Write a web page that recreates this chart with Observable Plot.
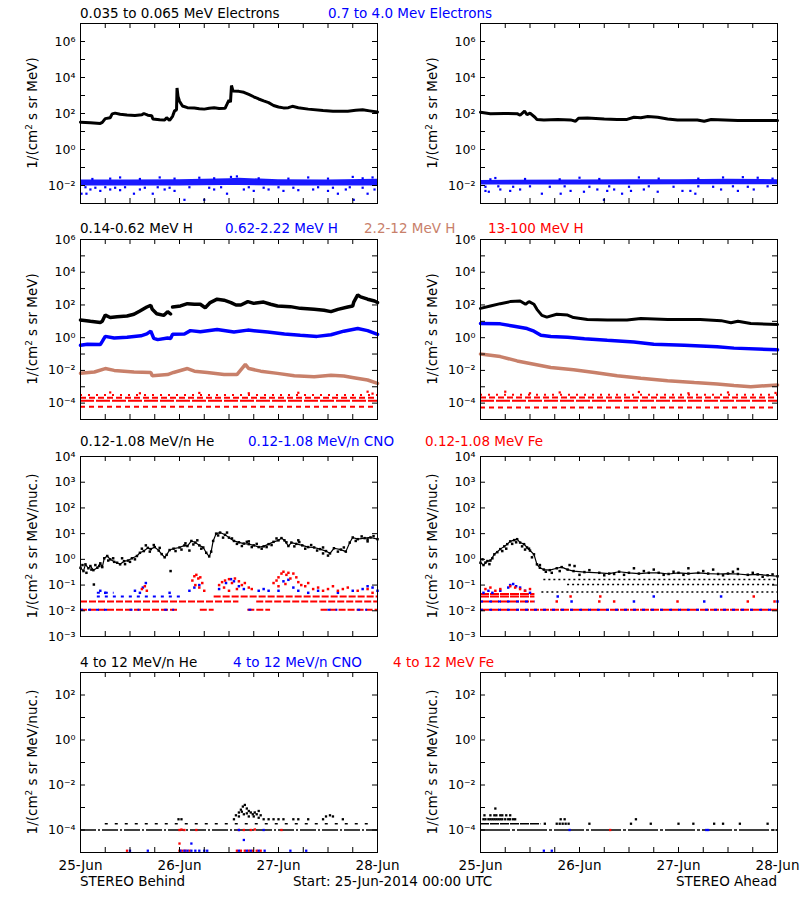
<!DOCTYPE html>
<html><head><meta charset="utf-8">
<script src="https://cdn.jsdelivr.net/npm/d3@7"></script>
<script src="https://cdn.jsdelivr.net/npm/@observablehq/plot@0.6"></script>
<style>
html,body{margin:0;padding:0;background:#fff;}
body{width:800px;height:900px;position:relative;overflow:hidden;font-family:"DejaVu Sans",sans-serif;}
.t{position:absolute;white-space:nowrap;line-height:1;font-family:"DejaVu Sans",sans-serif;}
.t sup{font-size:0.65em;line-height:0;vertical-align:0.55em;}
svg{position:absolute;}
</style></head>
<body>
<script>
// ---------- axes / labels ----------
const dayTicks = [0, 1, 2, 3];
const dayLabels = ["25-Jun", "26-Jun", "27-Jun", "28-Jun"];
const sixHourTicks = [0.25, 0.5, 0.75, 1, 1.25, 1.5, 1.75, 2, 2.25, 2.5, 2.75];
const yDomains = [[1e-3, 1e7], [1e-5, 1e6], [1e-3, 1e4], [1e-5, 1e3]];
const decadeTicks = [
  [1e-2, 1e-1, 1, 1e1, 1e2, 1e3, 1e4, 1e5, 1e6],
  [1e-4, 1e-3, 1e-2, 1e-1, 1, 1e1, 1e2, 1e3, 1e4, 1e5],
  [1e-2, 1e-1, 1, 1e1, 1e2, 1e3],
  [1e-4, 1e-3, 1e-2, 1e-1, 1, 1e1, 1e2]
];
const labelTicks = [
  [1e-2, 1, 1e2, 1e4, 1e6],
  [1e-4, 1e-2, 1, 1e2, 1e4, 1e6],
  [1e-3, 1e-2, 1e-1, 1, 1e1, 1e2, 1e3, 1e4],
  [1e-4, 1e-2, 1, 1e2]
];
const rowTitles = [
  [["0.035 to 0.065 MeV Electrons", 80, "black"], ["0.7 to 4.0 Mev Electrons", 328, "blue"]],
  [["0.14-0.62 MeV H", 80, "black"], ["0.62-2.22 MeV H", 225, "blue"], ["2.2-12 MeV H", 364, "#c8806a"], ["13-100 MeV H", 488, "red"]],
  [["0.12-1.08 MeV/n He", 80, "black"], ["0.12-1.08 MeV/n CNO", 248, "blue"], ["0.12-1.08 MeV Fe", 425, "red"]],
  [["4 to 12 MeV/n He", 80, "black"], ["4 to 12 MeV/n CNO", 233, "blue"], ["4 to 12 MeV Fe", 393, "red"]]
];
const yTitles = ["1/(cm<sup>2</sup> s sr MeV)", "1/(cm<sup>2</sup> s sr MeV)", "1/(cm<sup>2</sup> s sr MeV/nuc.)", "1/(cm<sup>2</sup> s sr MeV/nuc.)"];

// ---------- Row 1: electrons ----------
const behindE1 = [[0,33],[0.1,31],[0.2,28],[0.22,32],[0.25,52],[0.3,58],[0.32,95],[0.35,105],[0.4,90],[0.47,82],[0.55,78],[0.62,85],[0.64,100],[0.68,80],[0.72,75],[0.73,50],[0.8,45],[0.85,44],[0.87,58],[0.9,42],[0.93,70],[0.95,140],[0.97,160],[0.975,2600],[0.985,900],[1.0,480],[1.03,260],[1.08,210],[1.15,200],[1.2,185],[1.25,175],[1.3,195],[1.35,210],[1.4,190],[1.46,195],[1.48,330],[1.5,560],[1.515,420],[1.525,3600],[1.54,1800],[1.6,1700],[1.65,1500],[1.7,1150],[1.75,850],[1.8,640],[1.85,500],[1.9,400],[1.95,280],[2.0,230],[2.05,205],[2.1,210],[2.14,250],[2.2,210],[2.3,175],[2.45,145],[2.55,135],[2.7,135],[2.78,150],[2.85,160],[2.92,140],[3.0,120]];
const behindE2Band = [[0,0.0095,0.02],[0.5,0.0095,0.02],[1.0,0.0095,0.021],[1.5,0.01,0.024],[1.6,0.01,0.025],[2.0,0.0095,0.021],[2.5,0.0095,0.02],[3.0,0.0095,0.022]];
const behindE2Out = [[0.01,0.0035],[0.06,0.0035],[0.1,0.006],[0.2,0.005],[0.3,0.006],[0.4,0.0055],[0.54,0.0035],[0.6,0.006],[0.73,0.0035],[0.85,0.006],[0.95,0.005],[1.05,0.0016],[1.25,0.0016],[1.35,0.006],[1.48,0.0035],[1.52,0.03],[1.58,0.032],[1.65,0.006],[1.75,0.005],[1.9,0.006],[2.05,0.005],[2.2,0.0055],[2.35,0.006],[2.5,0.005],[2.6,0.0035],[2.68,0.006],[2.76,0.0016],[2.9,0.0035],[2.97,0.006],[0.4,0.028],[0.8,0.028],[1.2,0.027],[2.3,0.028],[2.75,0.03],[2.95,0.028],[0.05,0.008],[0.15,0.0075],[0.25,0.008],[0.35,0.0075],[0.45,0.008],[0.65,0.0075],[0.78,0.008],[0.9,0.0075],[1.1,0.008],[1.3,0.0075],[1.42,0.008],[1.7,0.008],[1.85,0.0075],[2.0,0.008],[2.15,0.0075],[2.4,0.008],[2.55,0.0075],[2.72,0.008],[2.85,0.0075],[0.12,0.023],[0.3,0.024],[0.6,0.023],[0.95,0.024],[1.35,0.025],[1.8,0.025],[2.1,0.024],[2.5,0.024],[2.85,0.025]];
const aheadE1 = [[0,118],[0.1,98],[0.24,100],[0.37,98],[0.4,80],[0.445,135],[0.47,85],[0.5,105],[0.55,62],[0.57,47],[0.64,44],[0.78,46],[0.91,44],[0.96,37],[0.99,55],[1.08,57],[1.25,50],[1.38,46],[1.48,47],[1.55,62],[1.62,58],[1.69,68],[1.79,62],[1.89,50],[1.99,44],[2.19,44],[2.26,37],[2.33,46],[2.6,41],[2.8,41],[3.0,41]];
const aheadE2Band = [[0,0.0105,0.019],[1.0,0.0105,0.02],[1.5,0.0105,0.021],[2.0,0.011,0.021],[2.5,0.011,0.022],[3.0,0.011,0.021]];
const aheadE2Out = [[0.05,0.005],[0.084,0.0045],[0.2,0.006],[0.3,0.005],[0.4,0.006],[0.62,0.0035],[0.81,0.0035],[0.91,0.005],[1.045,0.0045],[1.18,0.006],[1.247,0.0016],[1.28,0.005],[1.35,0.006],[1.43,0.0035],[1.52,0.005],[1.65,0.006],[1.79,0.0045],[2.04,0.005],[2.12,0.005],[2.17,0.0035],[2.43,0.006],[2.6,0.005],[2.76,0.006],[0.15,0.026],[1.0,0.027],[1.6,0.028],[2.45,0.028],[2.65,0.029],[2.8,0.027],[0.05,0.0085],[0.18,0.009],[0.33,0.0085],[0.5,0.009],[0.7,0.0085],[0.85,0.009],[1.1,0.0085],[1.3,0.009],[1.5,0.0085],[1.7,0.009],[1.95,0.0085],[2.2,0.009],[2.35,0.0085],[2.55,0.009],[2.7,0.0085],[2.9,0.009],[0.1,0.022],[0.45,0.023],[0.8,0.022],[1.2,0.023],[1.8,0.024],[2.2,0.024],[2.95,0.024]];

// ---------- Row 2: protons ----------
const behindH1 = [[0,12],[0.1,10],[0.2,8.5],[0.22,10],[0.25,24],[0.3,17],[0.37,19],[0.47,21],[0.54,27],[0.6,43],[0.67,75],[0.71,95],[0.725,54],[0.77,29],[0.84,23],[0.88,39],[0.91,28],[0.92,NaN],[0.93,75],[1.01,87],[1.08,120],[1.15,110],[1.21,110],[1.26,68],[1.31,140],[1.38,225],[1.45,195],[1.52,140],[1.57,100],[1.62,100],[1.69,160],[1.75,125],[1.85,150],[1.92,110],[1.99,87],[2.12,79],[2.22,62],[2.36,54],[2.46,47],[2.53,39],[2.6,54],[2.7,75],[2.75,87],[2.76,150],[2.8,410],[2.83,310],[2.9,225],[2.97,175],[3.0,140]];
const behindH2 = [[0,0.34],[0.07,0.4],[0.2,0.38],[0.22,0.6],[0.25,1.2],[0.34,0.96],[0.47,1.05],[0.61,1.3],[0.67,1.7],[0.71,2.5],[0.74,0.9],[0.78,0.76],[0.88,0.95],[0.91,0.9],[0.93,1.6],[1.05,1.7],[1.11,2.7],[1.21,2.3],[1.38,3.2],[1.55,2.2],[1.69,2.9],[1.89,2.2],[2.06,1.7],[2.22,1.4],[2.39,1.2],[2.53,1.5],[2.66,2.5],[2.8,3.6],[2.9,2.7],[3.0,1.6]];
const behindH3 = [[0,0.0066],[0.14,0.008],[0.25,0.013],[0.34,0.01],[0.54,0.008],[0.71,0.0075],[0.725,0.0047],[0.88,0.0056],[0.94,0.0075],[1.08,0.013],[1.15,0.009],[1.28,0.0075],[1.45,0.0056],[1.58,0.0056],[1.63,0.013],[1.665,0.023],[1.7,0.013],[1.82,0.009],[1.99,0.0066],[2.16,0.0047],[2.36,0.0041],[2.53,0.0051],[2.66,0.0045],[2.76,0.0036],[2.9,0.0026],[3.0,0.0016]];
const behindH4Levels = [3.1e-4, 2.1e-4, 1.4e-4, 6e-5];
const behindH4Out = [[0.3,4.5e-4],[0.6,4e-4],[1.2,4.2e-4],[1.7,4e-4],[2.2,4.3e-4],[2.9,5e-4],[2.95,3.8e-4]];
const aheadH1 = [[0,62],[0.1,87],[0.2,120],[0.3,160],[0.4,175],[0.455,110],[0.49,160],[0.54,110],[0.57,54],[0.62,23],[0.67,18],[0.77,27],[0.88,24],[0.94,17],[1.08,13],[1.28,12],[1.48,12],[1.62,15],[1.89,13],[2.22,13],[2.43,11],[2.53,8.1],[2.6,10],[2.73,7.4],[3.0,6.4]];
const aheadH2 = [[0,7.4],[0.2,7],[0.34,5],[0.47,3.6],[0.54,2.5],[0.61,1.4],[0.71,1.2],[0.88,1.05],[1.05,0.87],[1.28,0.7],[1.55,0.55],[1.75,0.4],[2.06,0.34],[2.39,0.28],[2.56,0.23],[3.0,0.18]];
const aheadH3 = [[0,0.1],[0.2,0.07],[0.37,0.038],[0.54,0.024],[0.71,0.015],[0.94,0.011],[1.15,0.0075],[1.38,0.0047],[1.62,0.0033],[1.89,0.0023],[2.16,0.0018],[2.39,0.0015],[2.56,0.0012],[2.73,0.001],[3.0,0.0013]];
const aheadH4Levels = [3.2e-4, 2.2e-4, 1.4e-4, 5.5e-5];
const aheadH4Out = [[0.25,5e-4],[0.5,4e-4],[0.8,4.5e-4],[1.6,4.8e-4],[2.1,4e-4],[2.5,4.5e-4],[2.98,4.2e-4]];
const levelDash = ["2,6", "6,3", "14,2", "5,4"];

// ---------- Row 3: 0.12-1.08 MeV/n ions ----------
const behindHe = [[0,0.47],[0.03,0.35],[0.05,0.64],[0.08,0.45],[0.1,0.55],[0.13,0.38],[0.17,0.47],[0.2,0.7],[0.22,0.5],[0.24,1.1],[0.27,1.35],[0.3,1.0],[0.34,0.8],[0.37,0.74],[0.4,0.64],[0.44,0.85],[0.48,0.9],[0.52,1.1],[0.57,1.35],[0.6,1.8],[0.64,2.1],[0.68,2.8],[0.71,2.5],[0.75,3.0],[0.79,2.2],[0.82,1.6],[0.85,1.2],[0.87,1.5],[0.9,2.3],[0.94,2.6],[1.0,2.9],[1.05,3.5],[1.08,3.3],[1.12,5.2],[1.16,4.5],[1.2,3.5],[1.24,2.9],[1.27,1.8],[1.3,1.3],[1.32,2.0],[1.34,5.2],[1.37,10],[1.41,11],[1.46,9],[1.5,7],[1.55,5.2],[1.6,4.6],[1.65,4.1],[1.7,3.9],[1.75,3.5],[1.8,3.0],[1.85,3.2],[1.9,3.9],[1.95,4.8],[2.0,5.5],[2.03,6.7],[2.06,5.5],[2.1,3.3],[2.13,4.5],[2.18,4.0],[2.24,3.5],[2.3,3.0],[2.36,2.9],[2.42,2.5],[2.48,2.1],[2.52,1.7],[2.56,2.7],[2.63,2.4],[2.68,2.0],[2.72,4.5],[2.75,7.1],[2.8,6.1],[2.87,6.7],[2.93,7.1],[3.0,6.1]];
const behindHeOut = [[0.91,0.35],[0.135,0.105],[0.06,0.3],[0.15,0.6],[0.42,1.1],[0.66,3.5],[1.1,2.2],[1.44,7],[1.7,5],[2.2,5.5],[2.45,1.7],[2.9,5],[0.02,0.6],[0.11,0.4],[0.19,0.55],[0.28,0.9],[0.33,1.1],[0.45,0.65],[0.5,0.8],[0.55,1.0],[0.62,2.6],[0.7,2.0],[0.74,3.6],[0.8,2.8],[0.96,2.1],[1.02,2.4],[1.06,4.2],[1.14,3.8],[1.18,5.5],[1.22,2.6],[1.39,8.5],[1.48,11],[1.53,6.5],[1.58,4.0],[1.63,3.3],[1.68,4.8],[1.73,3.0],[1.78,4.0],[1.83,2.6],[1.88,3.0],[1.93,3.6],[1.98,6.5],[2.08,4.6],[2.16,3.2],[2.21,4.7],[2.27,2.6],[2.33,3.6],[2.39,2.2],[2.45,2.9],[2.5,1.4],[2.6,2.0],[2.66,2.9],[2.78,5.2],[2.84,7.8],[2.9,6.0],[2.96,8.0]];
const behindFeLevels = [[0,0.98,0.011],[1.21,1.35,0.011],[1.69,1.92,0.011],[2.43,3,0.011],[0,1.6,0.023],[1.78,3,0.023],[1.35,3,0.036]];
const behindCnoLevels = [[0,0.3,0.011],[0.5,0.6,0.011],[0.85,0.95,0.011],[1.7,1.78,0.011],[2.5,2.6,0.011],[2.8,2.9,0.011],[0.17,1.01,0.036],[0.17,0.34,0.05]];
const behindFe = [[0.62,0.07],[0.65,0.09],[0.67,0.06],[1.13,0.15],[1.15,0.22],[1.17,0.25],[1.19,0.18],[1.21,0.2],[1.23,0.12],[1.2,0.08],[1.16,0.1],[1.25,0.06],[1.4,0.1],[1.43,0.13],[1.46,0.15],[1.5,0.17],[1.53,0.12],[1.56,0.18],[1.6,0.14],[1.63,0.1],[1.66,0.12],[1.7,0.08],[1.73,0.07],[1.5,0.06],[1.45,0.08],[1.58,0.07],[1.95,0.12],[1.98,0.15],[2.0,0.2],[2.03,0.28],[2.05,0.33],[2.08,0.25],[2.1,0.3],[2.12,0.18],[2.15,0.28],[2.18,0.2],[2.2,0.13],[2.23,0.1],[2.27,0.09],[2.3,0.12],[2.0,0.09],[2.07,0.11],[2.35,0.07],[2.4,0.08],[2.45,0.06],[2.5,0.07],[2.55,0.09],[2.6,0.06],[2.65,0.07],[2.7,0.08],[2.8,0.06],[2.9,0.07],[2.95,0.05]];
const behindCno = [[0.2,0.06],[0.25,0.05],[0.55,0.06],[0.63,0.08],[0.66,0.12],[0.6,0.05],[0.9,0.05],[1.1,0.06],[1.15,0.08],[1.2,0.1],[1.4,0.07],[1.47,0.12],[1.52,0.17],[1.55,0.14],[1.6,0.09],[1.65,0.07],[1.8,0.06],[1.85,0.07],[1.9,0.06],[2.0,0.06],[2.05,0.14],[2.1,0.16],[2.15,0.08],[2.2,0.06],[2.3,0.05],[2.4,0.06],[2.6,0.05],[2.75,0.06],[2.85,0.07],[2.9,0.09],[2.95,0.08],[3.0,0.06]];
const aheadHe = [[0,0.74],[0.03,0.6],[0.07,0.86],[0.1,0.9],[0.14,1.57],[0.2,2.5],[0.24,3.2],[0.27,3.9],[0.3,5.0],[0.34,5.6],[0.37,6.1],[0.4,4.5],[0.44,3.9],[0.47,2.9],[0.5,2.2],[0.54,1.57],[0.57,0.64],[0.6,0.47],[0.64,0.4],[0.7,0.38],[0.77,0.45],[0.82,0.5],[0.88,0.4],[0.94,0.35],[1.05,0.32],[1.2,0.3],[1.3,0.28],[1.4,0.33],[1.5,0.3],[1.6,0.28],[1.7,0.3],[1.8,0.3],[1.9,0.27],[2.0,0.3],[2.1,0.28],[2.2,0.3],[2.3,0.28],[2.4,0.27],[2.5,0.28],[2.6,0.27],[2.7,0.25],[2.8,0.26],[2.9,0.24],[3.0,0.22]];
const aheadHeOut = [[0.9,0.6],[0.95,0.55],[1.55,0.45],[1.75,0.4],[2.1,0.45],[2.35,0.4],[2.6,0.42],[0.02,1.0],[0.12,1.1],[0.32,4.0],[0.45,2.4],[0.05,0.75],[0.09,0.65],[0.17,1.9],[0.22,2.1],[0.26,2.6],[0.36,4.6],[0.42,3.2],[0.49,2.6],[0.52,1.2],[0.6,0.6],[0.66,0.33],[0.72,0.3],[0.8,0.35],[1.0,0.25],[1.1,0.38],[1.25,0.24],[1.35,0.27],[1.45,0.25],[1.65,0.35],[1.85,0.25],[1.95,0.33],[2.05,0.25],[2.25,0.35],[2.45,0.24],[2.55,0.33],[2.75,0.3],[2.85,0.21],[2.95,0.26]];
const aheadHeLevels = [[0.64,3,0.165],[0.88,3,0.105],[0.62,3,0.054]];
const aheadFeLevels = [[0,3,0.011],[0,0.55,0.023],[0,0.55,0.036],[0,0.55,0.045]];
const aheadCnoLevels = [[0,3,0.011],[0,0.55,0.023]];
const aheadFe = [[0.05,0.07],[0.1,0.08],[0.15,0.06],[0.2,0.07],[0.3,0.09],[0.35,0.08],[0.4,0.07],[0.45,0.06],[0.5,0.07],[0.77,0.023],[0.91,0.036],[1.2,0.023],[1.21,0.036],[1.35,0.023],[1.99,0.023],[2.7,0.023],[2.76,0.036],[2.97,0.023]];
const aheadCno = [[0.03,0.05],[0.08,0.06],[0.12,0.05],[0.2,0.06],[0.28,0.08],[0.3,0.1],[0.33,0.11],[0.36,0.09],[0.4,0.08],[0.45,0.06],[0.5,0.05],[0.78,0.036],[0.92,0.023],[1.55,0.023],[1.75,0.036],[2.26,0.023],[2.43,0.036],[3.0,0.023]];

// ---------- Row 4: 4-12 MeV/n ions ----------
const behindHe4Base = [[0,3,1e-4]];
const behindHe4Upper = [[0.25,2.95,1.9e-4]];
const behindHe4 = [[1.55,3e-4],[1.57,4.5e-4],[1.6,6e-4],[1.62,8e-4],[1.64,1.1e-3],[1.66,1.3e-3],[1.68,9e-4],[1.7,7e-4],[1.72,6e-4],[1.74,5e-4],[1.76,6e-4],[1.78,5e-4],[1.8,7e-4],[1.82,4.5e-4],[1.6,4e-4],[1.65,5e-4],[1.7,4e-4],[1.75,4e-4],[1.8,3.5e-4],[1.68,5.5e-4],[1.63,6.5e-4],[0.99,3e-4],[1.02,3e-4],[1.85,3e-4],[1.9,3e-4],[1.95,3e-4],[2.0,3e-4],[2.05,3e-4],[2.15,3e-4],[2.2,3e-4],[2.3,3e-4],[2.45,3e-4],[2.48,4e-4],[2.52,4.5e-4],[2.55,4e-4],[2.65,3e-4]];
const behindFe4 = [[0.47,1.2e-5],[1.0,1.2e-5],[1.03,1.2e-5],[1.06,1.2e-5],[1.1,1.2e-5],[1.0,2.5e-5],[1.0,1e-4],[1.02,1.05e-4],[1.05,1e-4],[1.17,1e-4],[1.58,1.2e-5],[1.62,1.2e-5],[1.66,1.2e-5],[1.7,1.2e-5],[1.74,1.2e-5],[1.78,1.2e-5],[1.82,1.2e-5],[1.6,1e-4],[1.65,1e-4],[1.76,1.05e-4],[1.72,1e-4],[2.03,1e-4]];
const behindCno4 = [[0.5,1.2e-5],[0.68,1.2e-5],[1.01,1.2e-5],[1.05,1.2e-5],[1.08,1.2e-5],[1.12,1.2e-5],[1.16,1.2e-5],[1.2,1.2e-5],[1.25,1.2e-5],[1.28,1.2e-5],[1.12,2.5e-5],[1.65,3.6e-5],[1.6,1.2e-5],[1.68,1.2e-5],[1.72,1.2e-5],[1.8,1.2e-5],[1.86,1.2e-5],[2.12,1.2e-5],[2.28,1.2e-5],[1.6,1e-4],[1.85,1e-4]];
const aheadHe4Base = [[0,3,1e-4]];
const aheadHe4Upper = [[0,0.61,1.9e-4]];
const aheadHe4 = [[0.03,3e-4],[0.05,3e-4],[0.08,3e-4],[0.1,3e-4],[0.12,3e-4],[0.14,3e-4],[0.16,3e-4],[0.18,3e-4],[0.2,3e-4],[0.22,3e-4],[0.25,3e-4],[0.28,3e-4],[0.3,3e-4],[0.33,3e-4],[0.35,3e-4],[0.04,4.5e-4],[0.1,4.5e-4],[0.14,4.5e-4],[0.16,4.5e-4],[0.2,4.5e-4],[0.22,4.5e-4],[0.26,4.5e-4],[0.3,4.5e-4],[0.15,9e-4],[0.65,1.9e-4],[0.77,1.9e-4],[0.8,1.9e-4],[0.83,1.9e-4],[0.86,1.9e-4],[0.89,1.9e-4],[1.1,1.9e-4],[1.52,1.9e-4],[1.72,1.9e-4],[2.0,1.9e-4],[2.15,1.9e-4],[2.36,1.9e-4],[2.45,1.9e-4],[2.62,1.9e-4],[2.9,1.9e-4],[0.81,3e-4],[0.85,3e-4],[1.57,3e-4]];
const aheadCno4 = [[0.64,1.2e-5],[0.72,1.2e-5],[0.9,1e-4],[2.28,1e-4],[2.3,1e-4]];
const aheadFe4 = [[1.31,1e-4]];

// ---------- layout ----------
const rowTop = [23, 239, 456, 672];
const PH = 180;
const BLUE = "#0000ff", RED = "#ff0000", SIENNA = "#c8806a";
const FONT = "'DejaVu Sans', sans-serif";
const supMap = {"-": "\u207B", "0": "\u2070", "1": "\u00B9", "2": "\u00B2", "3": "\u00B3", "4": "\u2074", "5": "\u2075", "6": "\u2076", "7": "\u2077", "8": "\u2078", "9": "\u2079"};
const sup = d => "10" + String(Math.round(Math.log10(d))).split("").map(c => supMap[c]).join("");
const X = d => d[0], Y = d => d[1];

const line = (data, color, w) => Plot.line(data, {x: X, y: Y, stroke: color, strokeWidth: w, strokeLinejoin: "miter"});
const dots = (data, color, r = 1.25) => Plot.dot(data, {x: X, y: Y, fill: color, r, symbol: "square"});
const band = (data, color) => Plot.areaY(data, {x: X, y1: d => d[1], y2: d => d[2], fill: color, fillOpacity: 0.9});
const segs = (data, color, dash, w = 2) => Plot.ruleY(data, {y: d => d[2], x1: d => d[0], x2: d => d[1], stroke: color, strokeWidth: w, strokeDasharray: dash});
const levelRules = (levels, color) => levels.map((lv, i) => Plot.ruleY([lv], {y: d => d, x1: 0, x2: 3, stroke: color, strokeWidth: 2, strokeDasharray: levelDash[i]}));

function text(html, x, baseline, color, size = 13.5, anchor = "start") {
  const el = document.createElement("div");
  el.className = "t";
  el.innerHTML = html;
  el.style.left = x + "px";
  el.style.top = (baseline - 0.846 * size) + "px";
  el.style.color = color;
  el.style.fontSize = size + "px";
  if (anchor === "end") el.style.transform = "translateX(-100%)";
  document.body.appendChild(el);
}
function vtext(html, cx, cy, size = 13.5) {
  const el = document.createElement("div");
  el.className = "t";
  el.innerHTML = html;
  el.style.left = cx + "px";
  el.style.top = cy + "px";
  el.style.fontSize = size + "px";
  el.style.transform = "translate(-50%,-50%) rotate(-90deg)";
  document.body.appendChild(el);
}

function panel(row, col, marks) {
  const [lo, hi] = yDomains[row];
  const mt = 12, mb = row === 3 ? 30 : 12;
  const plotW = 297;
  const tx = 5 * 3 / plotW;
  const ty = Math.pow(10, 5 * Math.log10(hi / lo) / PH);
  const extra = row === 3 ? [Plot.axisX(dayTicks, {tickSize: 0, tickPadding: 8, tickFormat: d => dayLabels[d], label: null, fontSize: 13.5})] : [];
  const p = Plot.plot({
    width: 400, height: PH + mt + mb,
    marginLeft: 80, marginRight: 400 - 80 - plotW, marginTop: mt, marginBottom: mb,
    style: {fontFamily: FONT, fontSize: "12px", background: "transparent", overflow: "visible", color: "black"},
    x: {domain: [0, 3], axis: null},
    y: {type: "log", domain: [lo, hi], axis: null},
    marks: [
      ...marks,
      Plot.ruleY(decadeTicks[row], {y: d => d, x1: 0, x2: tx, stroke: "black"}),
      Plot.ruleY(decadeTicks[row], {y: d => d, x1: 3 - tx, x2: 3, stroke: "black"}),
      Plot.ruleX(sixHourTicks, {x: d => d, y1: lo, y2: lo * ty, stroke: "black"}),
      Plot.ruleX(sixHourTicks, {x: d => d, y1: hi / ty, y2: hi, stroke: "black"}),
      Plot.frame({stroke: "black"}),
      Plot.axisY(labelTicks[row], {tickSize: 0, tickPadding: 5, tickFormat: sup, label: null, fontSize: 12.5}),
      ...extra
    ]
  });
  p.style.position = "absolute";
  p.style.left = (col * 400) + "px";
  p.style.top = (rowTop[row] - mt) + "px";
  document.body.appendChild(p);
}

// Row 1
panel(0, 0, [band(behindE2Band, BLUE), dots(behindE2Out, BLUE), line(behindE1, "black", 3)]);
panel(0, 1, [band(aheadE2Band, BLUE), dots(aheadE2Out, BLUE), line(aheadE1, "black", 3)]);
// Row 2
panel(1, 0, [...levelRules(behindH4Levels, RED), dots(behindH4Out, RED), line(behindH3, SIENNA, 3.5), line(behindH2, BLUE, 3.5), line(behindH1, "black", 3.5)]);
panel(1, 1, [...levelRules(aheadH4Levels, RED), dots(aheadH4Out, RED), line(aheadH3, SIENNA, 3.5), line(aheadH2, BLUE, 3.5), line(aheadH1, "black", 3)]);
// Row 3
panel(2, 0, [
  segs(behindFeLevels, RED, "7,2"), segs(behindCnoLevels, BLUE, "3,5"),
  dots(behindCno, BLUE, 1.4), dots(behindFe, RED, 1.4),
  line(behindHe, "black", 1.2), dots(behindHe, "black", 1.4), dots(behindHeOut, "black", 1.4)
]);
panel(2, 1, [
  segs(aheadFeLevels, RED, "9,1"), segs(aheadCnoLevels, BLUE, "3,6"),
  dots(aheadCno, BLUE, 1.4), dots(aheadFe, RED, 1.4),
  segs(aheadHeLevels, "black", "2,3", 1.6),
  line(aheadHe, "black", 1.2), dots(aheadHe, "black", 1.4), dots(aheadHeOut, "black", 1.4)
]);
// Row 4
panel(3, 0, [
  segs(behindHe4Base, "black", "16,2,2,2", 1.5), segs(behindHe4Upper, "black", "3,7", 1.6),
  dots(behindHe4, "black", 1.3), dots(behindFe4, RED, 1.3), dots(behindCno4, BLUE, 1.3)
]);
panel(3, 1, [
  segs(aheadHe4Base, "black", "30,2,3,2", 1.5), segs(aheadHe4Upper, "black", "9,1", 1.6),
  dots(aheadHe4, "black", 1.3), dots(aheadFe4, RED, 1.3), dots(aheadCno4, BLUE, 1.3)
]);

// Titles
const titleBase = [18, 233, 446, 667];
rowTitles.forEach((items, r) => items.forEach(([t, x, c]) => text(t, x, titleBase[r], c)));
// Y axis titles
yTitles.forEach((t, r) => { vtext(t, 33, rowTop[r] + PH / 2); vtext(t, 433, rowTop[r] + PH / 2); });
// Footer
text("STEREO Behind", 80, 886, "black");
text("Start: 25-Jun-2014 00:00 UTC", 293, 886, "black");
text("STEREO Ahead", 777, 886, "black", 13.5, "end");
</script>
</body></html>
